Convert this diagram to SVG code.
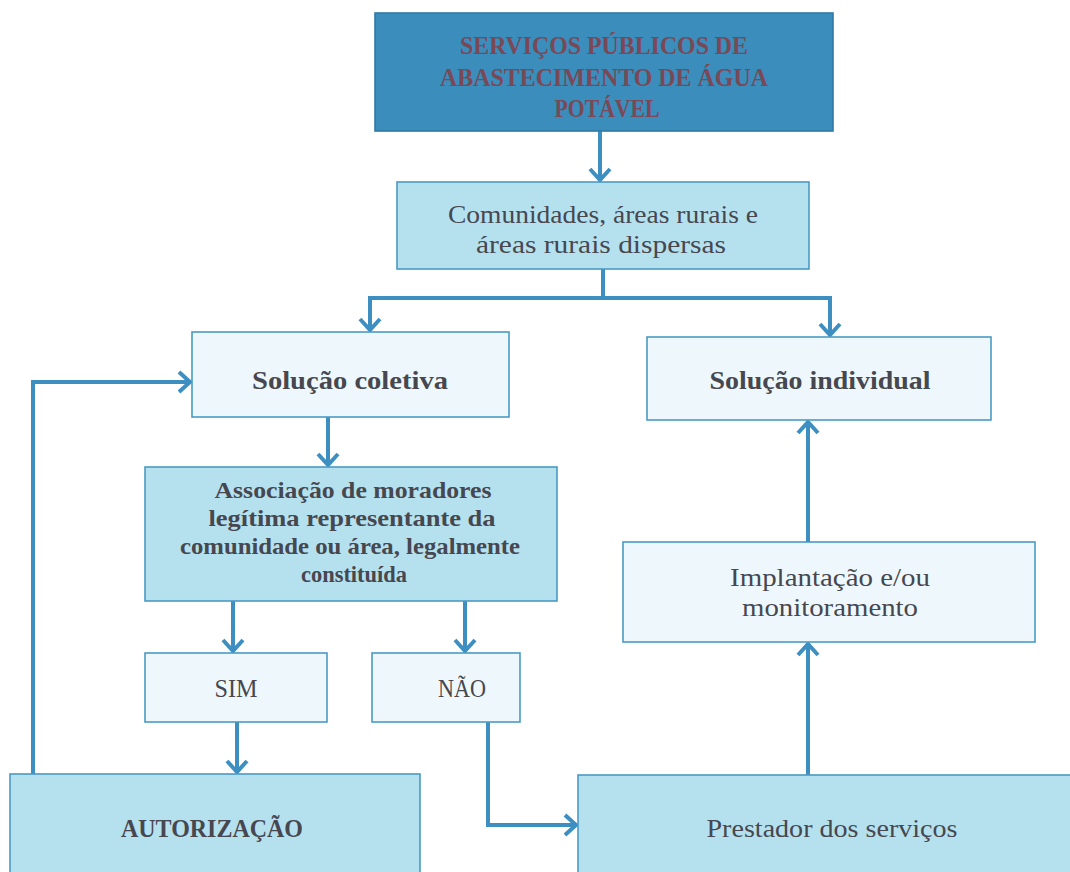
<svg xmlns="http://www.w3.org/2000/svg" width="1070" height="872" viewBox="0 0 1070 872">
<style>
.box{stroke:#4a9ac2;stroke-width:1.6}
.dark{fill:#3b8dbb;stroke:#2f7aa6}
.mid{fill:#b5e1ef}
.pale{fill:#eef8fc}
text{font-family:"Liberation Serif","Times New Roman",serif;text-anchor:middle;fill:#47474f;font-size:25px}
.b{font-weight:bold}
.as{font-size:23.5px}
.top{fill:#7a4856;font-weight:bold;font-size:25px}
.con{fill:none;stroke:#3d8fc2;stroke-width:4}
</style>
<defs>
<marker id="ah" viewBox="0 0 16 24" refX="13" refY="12" markerWidth="16" markerHeight="24" markerUnits="userSpaceOnUse" orient="auto">
<path d="M2,2 L13,12 L2,22" fill="none" stroke="#3d8fc2" stroke-width="4"/>
</marker>
</defs>
<rect width="1070" height="872" fill="#ffffff"/>
<g id="connectors">
<path class="con" d="M600,131 V180" marker-end="url(#ah)"/>
<path class="con" d="M603,268 V298"/>
<path class="con" d="M605,298 H370 V330" marker-end="url(#ah)"/>
<path class="con" d="M601,298 H830 V335" marker-end="url(#ah)"/>
<path class="con" d="M328,417 V465" marker-end="url(#ah)"/>
<path class="con" d="M233,601 V651" marker-end="url(#ah)"/>
<path class="con" d="M465,601 V651" marker-end="url(#ah)"/>
<path class="con" d="M237,722 V772" marker-end="url(#ah)"/>
<path class="con" d="M33,774 V382 H190" marker-end="url(#ah)"/>
<path class="con" d="M488,722 V825 H576" marker-end="url(#ah)"/>
<path class="con" d="M808,775 V644" marker-end="url(#ah)"/>
<path class="con" d="M808,542 V422" marker-end="url(#ah)"/>
</g>
<g id="servicos">
<rect class="box dark" x="375" y="13" width="458" height="118"/>
<text class="top" x="604" y="54" textLength="288" lengthAdjust="spacingAndGlyphs">SERVIÇOS PÚBLICOS DE</text>
<text class="top" x="604" y="86" textLength="328" lengthAdjust="spacingAndGlyphs">ABASTECIMENTO DE ÁGUA</text>
<text class="top" x="607" y="117" textLength="105" lengthAdjust="spacingAndGlyphs">POTÁVEL</text>
</g>
<g id="comunidades">
<rect class="box mid" x="397" y="182" width="412" height="87"/>
<text x="603" y="223" textLength="310" lengthAdjust="spacingAndGlyphs">Comunidades, áreas rurais e</text>
<text x="601" y="253" textLength="250" lengthAdjust="spacingAndGlyphs">áreas rurais dispersas</text>
</g>
<g id="coletiva">
<rect class="box pale" x="192" y="332" width="317" height="85"/>
<text class="b" x="350" y="389" textLength="196" lengthAdjust="spacingAndGlyphs">Solução coletiva</text>
</g>
<g id="individual">
<rect class="box pale" x="647" y="337" width="344" height="83"/>
<text class="b" x="820" y="389" textLength="221" lengthAdjust="spacingAndGlyphs">Solução individual</text>
</g>
<g id="associacao">
<rect class="box mid" x="145" y="467" width="412" height="134"/>
<text class="b as" x="353" y="498" textLength="277" lengthAdjust="spacingAndGlyphs">Associação de moradores</text>
<text class="b as" x="352" y="526" textLength="287" lengthAdjust="spacingAndGlyphs">legítima representante  da</text>
<text class="b as" x="350" y="554" textLength="340" lengthAdjust="spacingAndGlyphs">comunidade ou área, legalmente</text>
<text class="b as" x="354" y="582" textLength="106" lengthAdjust="spacingAndGlyphs">constituída</text>
</g>
<g id="sim">
<rect class="box pale" x="145" y="653" width="182" height="69"/>
<text x="236" y="697" textLength="43" lengthAdjust="spacingAndGlyphs">SIM</text>
</g>
<g id="nao">
<rect class="box pale" x="372" y="653" width="148" height="69"/>
<text x="462" y="697" textLength="48" lengthAdjust="spacingAndGlyphs">NÃO</text>
</g>
<g id="implantacao">
<rect class="box pale" x="623" y="542" width="412" height="100"/>
<text x="830" y="586" textLength="200" lengthAdjust="spacingAndGlyphs">Implantação e/ou</text>
<text x="830" y="616" textLength="176" lengthAdjust="spacingAndGlyphs">monitoramento</text>
</g>
<g id="autorizacao">
<rect class="box mid" x="10" y="774" width="410" height="110"/>
<text class="b" x="212" y="837" textLength="182" lengthAdjust="spacingAndGlyphs">AUTORIZAÇÃO</text>
</g>
<g id="prestador">
<rect class="box mid" x="578" y="775" width="500" height="110"/>
<text x="832" y="837" textLength="251" lengthAdjust="spacingAndGlyphs">Prestador dos serviços</text>
</g>
</svg>
